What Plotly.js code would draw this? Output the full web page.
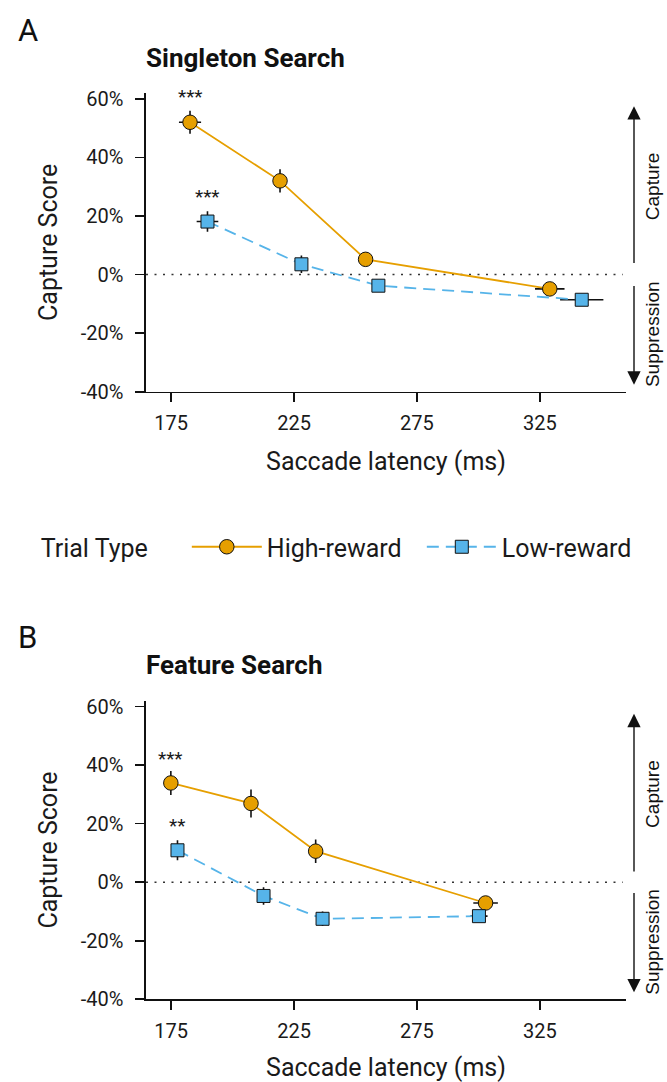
<!DOCTYPE html>
<html>
<head>
<meta charset="utf-8">
<script src="https://cdn.plot.ly/plotly-3.0.1.min.js"></script>
<style>html,body{margin:0;padding:0;background:#fff;}#chart{width:667px;height:1082px;}</style>
</head>
<body>
<div id="chart"></div>
<script>
// Panel A: Singleton Search
const singletonHighX   = [182.7, 219.3, 254.1, 329.0];
const singletonHighY   = [52.0, 32.0, 5.2, -4.9];
const singletonHighErrX = [4.5, 2.0, 2.0, 6.0];
const singletonHighErrY = [3.9, 4.0, 2.2, 1.2];
const singletonLowX    = [189.8, 228.0, 259.3, 342.0];
const singletonLowY    = [18.1, 3.5, -3.8, -8.6];
const singletonLowErrX = [4.4, 2.0, 2.0, 8.8];
const singletonLowErrY = [3.5, 3.0, 1.5, 1.5];

// Panel B: Feature Search
const featureHighX   = [174.9, 207.5, 233.8, 302.9];
const featureHighY   = [33.9, 26.9, 10.6, -7.1];
const featureHighErrX = [2.0, 2.0, 2.0, 5.0];
const featureHighErrY = [4.1, 4.8, 4.0, 1.5];
const featureLowX    = [177.6, 212.6, 236.6, 300.2];
const featureLowY    = [10.9, -4.7, -12.5, -11.6];
const featureLowErrX = [1.5, 1.5, 1.5, 3.5];
const featureLowErrY = [3.4, 3.0, 2.5, 1.5];

// significance labels on the first bin
const singletonStars = [{x: 182.7, y: 60.8, t: '***'}, {x: 189.8, y: 26.5, t: '***'}];
const featureStars   = [{x: 174.9, y: 42.2, t: '***'}, {x: 177.6, y: 19.5, t: '**'}];

const seriesNames = ['High-reward', 'Low-reward'];
const xTicks = [175, 225, 275, 325];
const yTicks = [-40, -20, 0, 20, 40, 60];
const yTickText = yTicks.map(v => v + '%');

const orange = '#E69F00';
const blue = '#56B4E9';
const FONT = 'Roboto, "Open Sans", sans-serif';
const SIDEFONT = '"Liberation Sans", Arial, sans-serif';

function errObj(arr) {
  return {type: 'data', array: arr, visible: true, color: '#111', thickness: 1.6, width: 0};
}
function trace(x, y, ex, ey, high, xa, ya, showleg) {
  return {
    type: 'scatter', mode: 'lines+markers',
    x: x, y: y, xaxis: xa, yaxis: ya,
    name: high ? seriesNames[0] : seriesNames[1],
    showlegend: showleg,
    line: {color: high ? orange : blue, width: 1.8, dash: high ? 'solid' : '12px,7px'},
    marker: {symbol: high ? 'circle' : 'square', size: high ? 14.5 : 13,
             color: high ? orange : blue, line: {color: '#111', width: 1}},
    error_x: errObj(ex), error_y: errObj(ey),
    cliponaxis: false
  };
}

const data = [
  trace(singletonHighX, singletonHighY, singletonHighErrX, singletonHighErrY, true, 'x', 'y', true),
  trace(singletonLowX, singletonLowY, singletonLowErrX, singletonLowErrY, false, 'x', 'y', true),
  trace(featureHighX, featureHighY, featureHighErrX, featureHighErrY, true, 'x2', 'y2', false),
  trace(featureLowX, featureLowY, featureLowErrX, featureLowErrY, false, 'x2', 'y2', false)
];

const H = 1082;
const xDom = [146/667, 626/667];
const yDomA = [1 - 391.7/H, 1 - 93/H];
const yDomB = [1 - 999.3/H, 1 - 700.7/H];

function xAxis(anchor, dom) {
  return {
    domain: dom, anchor: anchor, range: [164.8, 360], tickvals: xTicks,
    showline: true, linecolor: '#111', linewidth: 1.6, mirror: false,
    ticks: 'outside', ticklen: 9, tickwidth: 1.6, tickcolor: '#111',
    ticklabelstandoff: 4,
    showgrid: false, zeroline: false, automargin: false,
    tickfont: {family: FONT, size: 20, color: '#1a1a1a'},
    title: {text: 'Saccade latency (ms)', font: {family: FONT, size: 25, color: '#1a1a1a'}, standoff: 18}
  };
}
function yAxis(anchor, dom) {
  return {
    domain: dom, anchor: anchor, range: [-40, 62], tickmode: 'array', tickvals: yTicks, ticktext: yTickText,
    showline: true, linecolor: '#111', linewidth: 1.6,
    ticks: 'outside', ticklen: 9, tickwidth: 1.6, tickcolor: '#111',
    ticklabelstandoff: 8,
    showgrid: false, zeroline: false, automargin: false,
    tickfont: {family: FONT, size: 20, color: '#1a1a1a'},
    title: {text: 'Capture Score', font: {family: FONT, size: 25, color: '#1a1a1a'}, standoff: 16}
  };
}

const annotations = [];
function starAnn(list, xr, yr) {
  list.forEach(s => annotations.push({x: s.x, y: s.y, xref: xr, yref: yr, text: s.t, showarrow: false,
    font: {family: FONT, size: 19, color: '#1a1a1a'}, yanchor: 'middle'}));
}
starAnn(singletonStars, 'x', 'y');
starAnn(featureStars, 'x2', 'y2');

function panelLabels(letter, title, yLetter, yTitle) {
  annotations.push({xref: 'paper', yref: 'paper', x: 16/667, y: 1 - yLetter/H, xanchor: 'left', yanchor: 'middle',
    text: letter, showarrow: false, font: {family: FONT, size: 31, color: '#111'}});
  annotations.push({xref: 'paper', yref: 'paper', x: 144/667, y: 1 - yTitle/H, xanchor: 'left', yanchor: 'middle',
    text: '<b>' + title + '</b>', showarrow: false, font: {family: FONT, size: 26, color: '#111'}});
}
panelLabels('A', 'Singleton Search', 30, 58);
panelLabels('B', 'Feature Search', 637, 665);

// Capture / Suppression side arrows
function sideArrows(yr, pxPerUnit) {
  const ax = 634/667;
  annotations.push({xref: 'paper', yref: yr, x: ax, y: 57.5, axref: 'pixel', ayref: 'pixel', ax: 0,
    ay: (57.5 - 3.2) * pxPerUnit, text: '', showarrow: true, arrowhead: 2, arrowsize: 1.9, arrowwidth: 1.4,
    arrowcolor: '#111', standoff: 0, startstandoff: 0});
  annotations.push({xref: 'paper', yref: yr, x: ax, y: -37.6, axref: 'pixel', ayref: 'pixel', ax: 0,
    ay: (-37.6 + 3.2) * pxPerUnit, text: '', showarrow: true, arrowhead: 2, arrowsize: 1.9, arrowwidth: 1.4,
    arrowcolor: '#111', standoff: 0, startstandoff: 0});
  annotations.push({xref: 'paper', yref: yr, x: 665/667, y: 30, text: 'Capture', textangle: -90, showarrow: false,
    font: {family: SIDEFONT, size: 19, color: '#111'}});
  annotations.push({xref: 'paper', yref: yr, x: 665/667, y: -20.5, text: 'Suppression', textangle: -90, showarrow: false,
    font: {family: SIDEFONT, size: 19, color: '#111'}});
}
sideArrows('y', 2.915);
sideArrows('y2', 2.93);

const shapes = [
  {type: 'line', xref: 'x domain', yref: 'y', x0: 0, x1: 0.993, y0: 0, y1: 0,
   line: {color: '#333', width: 1.6, dash: '2px,6.5px'}, layer: 'below'},
  {type: 'line', xref: 'x2 domain', yref: 'y2', x0: 0, x1: 0.993, y0: 0, y1: 0,
   line: {color: '#333', width: 1.6, dash: '2px,6.5px'}, layer: 'below'}
];

const layout = {
  width: 667, height: 1082,
  margin: {l: 0, r: 0, t: 0, b: 0},
  paper_bgcolor: '#fff', plot_bgcolor: '#fff',
  font: {family: FONT, color: '#1a1a1a'},
  xaxis: xAxis('y', xDom), yaxis: yAxis('x', yDomA),
  xaxis2: xAxis('y2', xDom), yaxis2: yAxis('x2', yDomB),
  showlegend: true,
  legend: {
    orientation: 'h', x: 0.058, xanchor: 'left', y: 1 - 547/H, yanchor: 'middle',
    title: {text: 'Trial Type\u00a0\u00a0\u00a0\u00a0\u00a0', side: 'left', font: {family: FONT, size: 25, color: '#1a1a1a'}},
    font: {family: FONT, size: 25, color: '#1a1a1a'},
    itemwidth: 70, entrywidth: 150, entrywidthmode: 'pixels', bgcolor: 'rgba(0,0,0,0)'
  },
  annotations: annotations,
  shapes: shapes
};

Plotly.newPlot('chart', data, layout, {displayModeBar: false, staticPlot: true});
</script>
</body>
</html>
